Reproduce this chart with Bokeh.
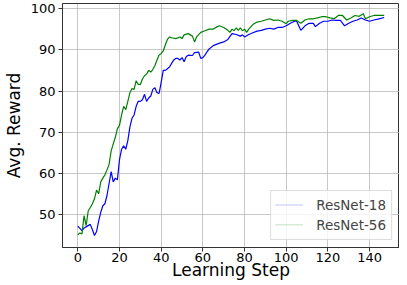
from bokeh.plotting import figure
from bokeh.models import Range1d, FixedTicker, Legend, LegendItem
from bokeh.embed import file_html
from bokeh.resources import INLINE

# ResNet-18 (blue)
x18 = [0, 2, 3, 5, 6, 7, 8, 9, 10, 11, 12, 13, 14, 15, 16, 17, 18, 19, 20, 21, 22, 23, 24, 25,
       26, 27, 28, 29, 30, 31, 32, 33, 34, 35, 36, 37, 38, 39, 40, 41, 42, 43, 44, 45, 46, 47,
       48, 49, 50, 51, 52, 53, 55, 56, 58, 59, 60, 61, 62, 63, 65, 68, 70, 72, 74, 76, 78, 79,
       80, 82, 84, 86, 88, 90, 92, 94, 96, 98, 100, 102, 104, 105, 107, 109, 111, 113, 114, 116,
       118, 120, 122, 124, 126, 128, 130, 132, 134, 136, 138, 140, 142, 144, 147]
y18 = [47.3, 46.2, 46.8, 47.4, 47.7, 46.4, 45.0, 46.0, 48.5, 50.6, 52.2, 52.7, 54.7, 57.6, 60.5,
       58.0, 58.9, 58.5, 63.4, 65.9, 66.7, 65.9, 68.0, 71.3, 73.4, 74.2, 76.3, 77.5, 77.5, 77.9,
       79.2, 77.5, 78.3, 78.8, 80.4, 80.8, 79.6, 79.4, 82.1, 85.0, 85.0, 85.4, 85.8, 86.7, 87.5,
       87.9, 87.9, 87.5, 88.1, 87.1, 88.3, 88.7, 88.6, 89.3, 89.4, 87.9, 88.1, 88.7, 89.5, 90.2,
       91.0, 91.6, 91.9, 92.5, 93.9, 93.7, 93.3, 93.6, 93.1, 93.7, 94.1, 94.5, 94.7, 95.0, 95.2,
       95.0, 95.4, 95.4, 95.8, 96.4, 96.9, 96.9, 94.7, 95.8, 96.4, 96.4, 95.6, 96.4, 96.9, 96.9,
       97.2, 97.1, 97.1, 95.8, 96.4, 96.9, 97.2, 97.7, 97.2, 96.9, 97.2, 97.4, 97.8]

# ResNet-56 (green)
x56 = [0, 1, 2, 3, 4, 5, 6, 7, 8, 9, 10, 11, 12, 13, 14, 15, 16, 17, 18, 19, 20, 21, 22, 23, 24,
       25, 26, 27, 28, 29, 30, 31, 32, 33, 34, 35, 36, 37, 38, 39, 40, 41, 42, 43, 44, 45, 47,
       49, 50, 51, 53, 55, 56, 57, 59, 61, 63, 65, 67, 68, 70, 72, 73, 74, 75, 76, 77, 78, 79,
       80, 81, 82, 84, 86, 88, 90, 92, 94, 96, 98, 100, 101, 103, 105, 107, 109, 111, 113, 115,
       117, 119, 121, 123, 125, 127, 129, 131, 133, 135, 137, 138, 140, 142, 144, 147]
y56 = [45.2, 45.6, 45.4, 49.8, 47.4, 51.0, 51.8, 52.7, 53.9, 56.0, 55.1, 58.0, 58.9, 59.7, 60.9,
       62.2, 65.5, 67.2, 68.8, 70.9, 71.7, 74.2, 76.3, 75.5, 77.5, 79.6, 80.6, 80.4, 82.5, 81.6,
       81.6, 82.9, 83.7, 84.1, 85.0, 84.6, 85.2, 86.2, 87.5, 88.7, 89.1, 89.7, 91.2, 92.5, 93.1,
       92.9, 92.7, 93.1, 92.7, 93.6, 93.9, 93.3, 91.9, 93.1, 94.2, 94.6, 95.0, 95.0, 95.6, 95.8,
       95.4, 94.7, 94.2, 95.0, 94.6, 95.3, 94.7, 95.3, 94.6, 95.0, 94.2, 95.0, 96.1, 96.7, 96.9,
       97.2, 97.5, 97.1, 97.2, 96.9, 96.3, 96.9, 97.1, 97.1, 96.4, 97.2, 97.5, 97.5, 97.7, 98.0,
       98.0, 97.7, 97.5, 98.3, 98.3, 97.2, 97.7, 98.3, 98.1, 98.7, 97.5, 98.0, 98.3, 98.3, 98.3]

x_ticks = [0, 20, 40, 60, 80, 100, 120, 140]
y_ticks = [50, 60, 70, 80, 90, 100]
series_names = ["ResNet-18", "ResNet-56"]
series_colors = ["#0000ff", "#008000"]

FONT = "DejaVu Sans"

p = figure(width=399, height=282, output_backend="svg", toolbar_location=None,
           x_range=Range1d(-7.35, 154.35), y_range=Range1d(42.1, 101.2),
           min_border_left=0, min_border_right=0, min_border_top=3, min_border_bottom=0)

p.line(x18, y18, line_color=series_colors[0], line_width=1.2)
p.line(x56, y56, line_color=series_colors[1], line_width=1.2)

# blank legend entries (box + labels); the swatches are drawn on top as plain segments
k18 = p.quad(left=[], right=[], top=[], bottom=[], fill_color=series_colors[0], line_color=None)
k56 = p.quad(left=[], right=[], top=[], bottom=[], fill_color=series_colors[1], line_color=None)

# legend swatch placement (inside the legend box, one per row)
swatch_start, swatch_end = 94.7, 108.1
swatch_rows = [52.4, 47.6]
sw = p.segment(x0=[swatch_start, swatch_start], x1=[swatch_end, swatch_end],
               y0=swatch_rows, y1=swatch_rows, line_color=series_colors, line_width=1.2)
sw.level = "overlay"

p.xaxis.ticker = FixedTicker(ticks=x_ticks)
p.yaxis.ticker = FixedTicker(ticks=y_ticks)
p.xaxis.minor_tick_line_color = None
p.yaxis.minor_tick_line_color = None
for ax in (p.xaxis, p.yaxis):
    ax.major_label_text_font = FONT
    ax.major_label_text_font_size = "13px"
    ax.major_label_text_color = "black"
    ax.axis_label_text_font = FONT
    ax.axis_label_text_font_size = "17px"
    ax.axis_label_text_font_style = "normal"
    ax.axis_label_text_color = "black"
    ax.axis_line_color = "#333333"
    ax.major_tick_line_color = "#333333"
    ax.major_tick_out = 4
    ax.major_tick_in = 0
p.xaxis.axis_label = "Learning Step"
p.yaxis.axis_label = "Avg. Reward"
p.xaxis.axis_label_standoff = -5
p.yaxis.axis_label_standoff = 4
p.xaxis.major_label_standoff = 1
p.yaxis.major_label_standoff = 3

p.grid.grid_line_color = "#b0b0b0"
p.grid.grid_line_alpha = 0.7
p.grid.grid_line_width = 1
p.outline_line_color = "#333333"
p.outline_line_width = 1
p.background_fill_color = "white"
p.border_fill_color = "white"

legend = Legend(items=[LegendItem(label=series_names[0], renderers=[k18]),
                       LegendItem(label=series_names[1], renderers=[k56])],
                location="bottom_right")
legend.label_text_font = FONT
legend.label_text_font_size = "13.5px"
legend.glyph_width = 28
legend.glyph_height = 1
legend.label_height = 18
legend.spacing = 2
legend.padding = 5
legend.margin = 7
legend.label_standoff = 12
legend.border_line_color = "#bbbbbb"
legend.border_line_width = 1
legend.background_fill_alpha = 0.8
p.add_layout(legend)

open("out.html", "w").write(file_html(p, INLINE))
